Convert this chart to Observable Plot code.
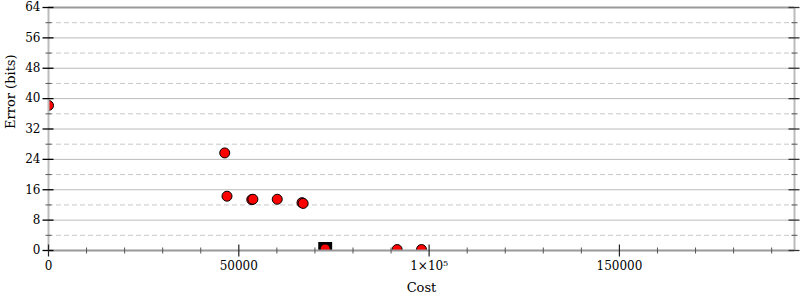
<!DOCTYPE html>
<html>
<head>
<meta charset="utf-8">
<script src="https://cdn.jsdelivr.net/npm/d3@7"></script>
<script src="https://cdn.jsdelivr.net/npm/@observablehq/plot@0.6"></script>
<style>
  html, body { margin: 0; padding: 0; background: #fff; }
</style>
</head>
<body>
<div id="chart"></div>
<script>
// ---- data ----
const costs  = [0,    46300, 46900, 53400, 53700, 60100, 66600, 66900, 72700, 91600, 98000];
const errors = [38.2, 25.7,  14.3,  13.4,  13.5,  13.5,  12.6,  12.4,  0.4,   0.25,  0.25];
const initialCost = [72700];
const initialError = [0.4];

const xDomain = [0, 196000];
const yDomain = [0, 64];
const xMajorTicks = [0, 50000, 100000, 150000];
const xTickLabels = ["0", "50000", "1×10⁵", "150000"];
const xMinorTicks = [10000, 20000, 30000, 40000, 60000, 70000, 80000, 90000, 110000, 120000, 130000, 140000, 160000, 170000, 180000, 190000];
const yMajorTicks = [0, 8, 16, 24, 32, 40, 48, 56, 64];
const yMinorTicks = [4, 12, 20, 28, 36, 44, 52, 60];
const yGridSolid = [8, 16, 24, 32, 40, 48, 56];
const xTitle = "Cost";
const yTitle = "Error (bits)";

const points = costs.map((c, i) => ({cost: c, error: errors[i]}));
const initial = initialCost.map((c, i) => ({cost: c, error: initialError[i]}));

// custom tick symbols
const hTickBig   = {draw(ctx) { ctx.moveTo(-6, 0); ctx.lineTo(5, 0); }};
const hTickSmall = {draw(ctx) { ctx.moveTo(-3, 0); ctx.lineTo(3, 0); }};
const vTickBig   = {draw(ctx) { ctx.moveTo(0, -6); ctx.lineTo(0, 6); }};
const vTickSmall = {draw(ctx) { ctx.moveTo(0, -3); ctx.lineTo(0, 3); }};

const chart = Plot.plot({
  width: 800,
  height: 300,
  marginLeft: 48,
  marginRight: 6,
  marginTop: 7,
  marginBottom: 50,
  style: {fontFamily: "DejaVu Serif", fontSize: "12px", background: "#fff", color: "#000"},
  x: {domain: xDomain, ticks: xMajorTicks, tickFormat: d => xTickLabels[xMajorTicks.indexOf(d)], tickSize: 0, tickPadding: 11, label: null},
  y: {domain: yDomain, ticks: yMajorTicks, tickSize: 0, tickPadding: 8, label: null},
  marks: [
    Plot.ruleY(yGridSolid, {stroke: "#bbb", strokeWidth: 1}),
    Plot.ruleY(yMinorTicks, {stroke: "#c8c8c8", strokeWidth: 1, strokeDasharray: "5,3"}),
    Plot.dot(initial, {x: "cost", y: "error", symbol: "square", r: 7, fill: "#000", stroke: "#000", clip: true}),
    Plot.dot(points, {x: "cost", y: "error", r: 5, fill: "#ff0000", stroke: "#000", strokeWidth: 1, clip: true}),
    Plot.ruleY([yDomain[0], yDomain[1]], {stroke: "#999", strokeWidth: 2}),
    Plot.ruleX([xDomain[0], xDomain[1]], {stroke: "#bbb", strokeWidth: 2}),
    // y ticks left and right
    Plot.dot(yMajorTicks, {y: d => d, frameAnchor: "left", symbol: hTickBig, stroke: "#000", fill: "none", strokeWidth: 1.3}),
    Plot.dot(yMinorTicks, {y: d => d, frameAnchor: "left", symbol: hTickSmall, stroke: "#555", fill: "none", strokeWidth: 1}),
    Plot.dot(yMajorTicks, {y: d => d, frameAnchor: "right", symbol: hTickBig, stroke: "#333", fill: "none", strokeWidth: 1.3}),
    Plot.dot(yMinorTicks, {y: d => d, frameAnchor: "right", symbol: hTickSmall, stroke: "#555", fill: "none", strokeWidth: 1}),
    // x ticks
    Plot.dot(xMajorTicks, {x: d => d, frameAnchor: "bottom", symbol: vTickBig, stroke: "#222", fill: "none", strokeWidth: 1.2}),
    Plot.dot(xMinorTicks, {x: d => d, frameAnchor: "bottom", symbol: vTickSmall, stroke: "#555", fill: "none", strokeWidth: 1}),
    // titles
    Plot.text([xTitle], {frameAnchor: "bottom", dy: 41, fontSize: 13, fill: "#000"}),
    Plot.text([yTitle], {frameAnchor: "left", dx: -38, rotate: -90, fontSize: 13, fill: "#000"})
  ]
});
document.getElementById("chart").appendChild(chart);
</script>
</body>
</html>
